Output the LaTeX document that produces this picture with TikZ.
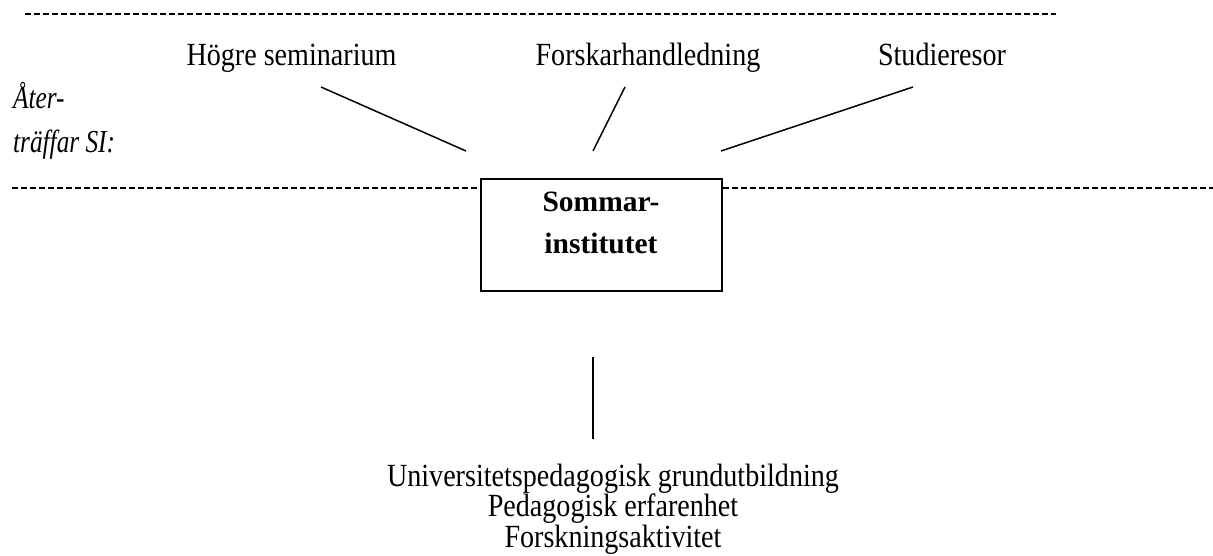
\documentclass[tikz,border=0pt]{standalone}
\usepackage{fontspec}
\setmainfont{Liberation Serif}
\newfontfamily\condfont[FakeStretch=0.87]{Liberation Serif}
\newfontfamily\conditfont[FakeStretch=0.79]{Liberation Serif}
\begin{document}
\begin{tikzpicture}[x=1pt,y=-1pt,
  lbl/.style={font=\condfont\fontsize{32.3}{36}\selectfont, inner sep=0pt, anchor=base},
  itlbl/.style={font=\conditfont\itshape\fontsize{32}{36}\selectfont, inner sep=0pt, anchor=base west},
  boldlbl/.style={font=\bfseries\fontsize{29.5}{33}\selectfont, inner sep=0pt, anchor=base},
  conn/.style={line width=1.5pt},
  dashline/.style={line width=1.2pt, dash pattern=on 6pt off 3pt}]
\useasboundingbox (0,0) rectangle (1213,556);

% top dashed line
\coordinate (t1) at (25,14);
\coordinate (t2) at (1056,14);
\draw[dashline] (t1) -- (t2);

% top labels
\node[lbl] (hs) at (291.5,66) {Högre seminarium};
\node[lbl] (fh) at (648,66) {Forskarhandledning};
\node[lbl] (sr) at (942,66) {Studieresor};

% side label
\node[itlbl] (at1) at (13,109) {Åter-};
\node[itlbl] (at2) at (13,153) {träffar SI:};

% box
\node[draw, line width=1.3pt, minimum width=241pt, minimum height=112pt, inner sep=0pt] (box) at (601.5,235) {};
\node[boldlbl] (s1) at (601,212) {Sommar-};
\node[boldlbl] (s2) at (601,254) {institutet};

% middle dashed line
\coordinate (ml) at (12,188);
\coordinate (mr) at (1213,188);
\draw[dashline] (ml) -- (ml -| box.west);
\draw[dashline] (box.east |- mr) -- (mr);

% connectors
\coordinate (c1a) at (321,87);
\coordinate (c1b) at (466,151);
\coordinate (c2a) at (625,87);
\coordinate (c2b) at (593,151);
\coordinate (c3a) at (913,87);
\coordinate (c3b) at (721,151);
\draw[conn] (c1a) -- (c1b);
\draw[conn] (c2a) -- (c2b);
\draw[conn] (c3a) -- (c3b);

\coordinate (v1) at (593,357);
\coordinate (v2) at (593,439);
\draw[conn] (v1) -- (v2);

% bottom labels
\node[font=\condfont\fontsize{32.3}{29}\selectfont, inner sep=0pt, align=center, anchor=center] (bot) at (613,509)
  {Universitetspedagogisk grundutbildning\\Pedagogisk erfarenhet\\Forskningsaktivitet};
\end{tikzpicture}
\end{document}
